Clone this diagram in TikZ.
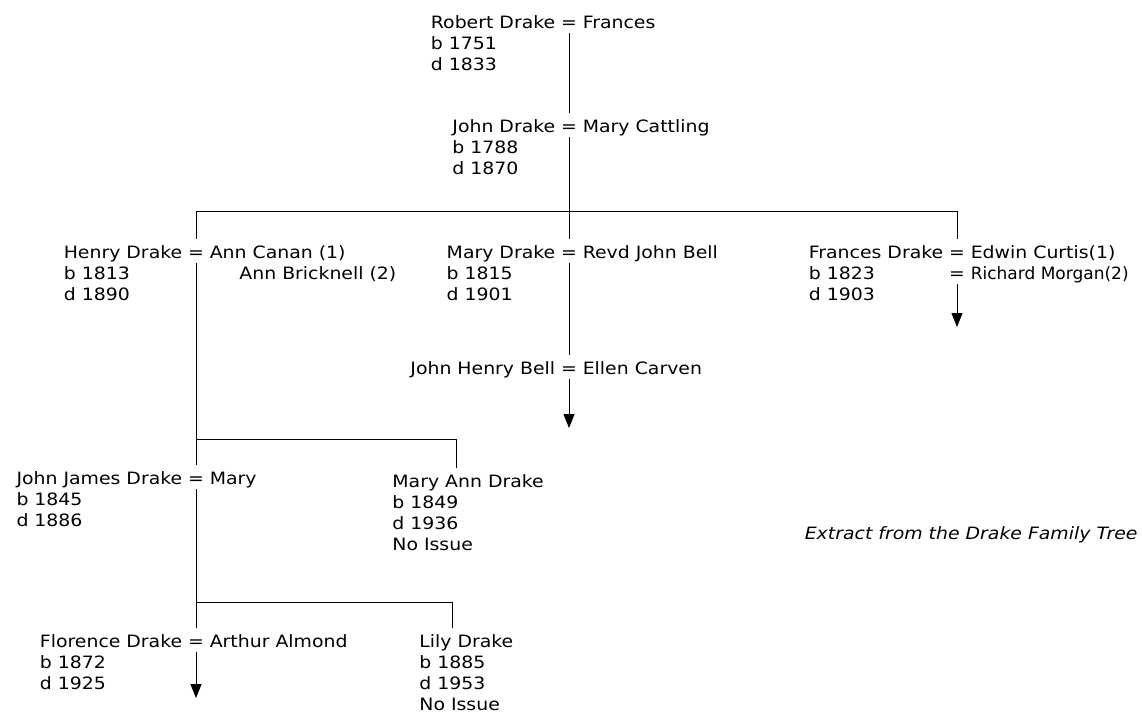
\documentclass[tikz,border=0pt]{standalone}
\usepackage{fontspec}
\setmainfont{DejaVu Sans}[FakeStretch=1.11]
\newfontfamily\tightfont{DejaVu Sans}[FakeStretch=1.0]
\usetikzlibrary{positioning,arrows.meta}

\begin{document}
\begin{tikzpicture}[x=1pt, y=-1pt, line width=0.9pt,
    person/.style={inner sep=0pt, text height=19pt, text depth=5pt, font=\fontsize{17}{21}\selectfont},
    eq/.style={person, inner xsep=5pt, anchor=base},
    descent/.style={-{Triangle[width=11pt,length=14pt]}},
    caption/.style={inner sep=0pt, font=\fontsize{17}{21}\selectfont\itshape}]

    \useasboundingbox (0,0) rectangle (1142,713);

    % marriages, one "=" per couple
    \node[eq] (robEq)   at (569,28)  {=};
    \node[eq] (johnEq)  at (569,132) {=};
    \node[eq] (henEq)   at (196,258) {=};
    \node[eq] (maryEq)  at (569,258) {=};
    \node[eq] (franEq)  at (957,258) {=};
    \node[eq] (franEq2) at (957,279) {=};
    \node[eq] (bellEq)  at (569,374) {=};
    \node[eq] (jamesEq) at (196,484) {=};
    \node[eq] (florEq)  at (196,647) {=};

    \node[person, base left=0pt of robEq]    (rob)    {Robert Drake};
    \node[person, base right=0pt of robEq]   (robW)   {Frances};
    \node[person, base left=0pt of johnEq]   (john)   {John Drake};
    \node[person, base right=0pt of johnEq]  (johnW)  {Mary Cattling};
    \node[person, base left=0pt of henEq]    (hen)    {Henry Drake};
    \node[person, base right=0pt of henEq]   (henW)   {Ann Canan (1)};
    \node[person, anchor=base west]          (henW2) at (239,279) {Ann Bricknell (2)};
    \node[person, base left=0pt of maryEq]   (mary)   {Mary Drake};
    \node[person, base right=0pt of maryEq]  (maryH)  {Revd John Bell};
    \node[person, base left=0pt of franEq]   (fran)   {Frances Drake};
    \node[person, base right=0pt of franEq]  (franH)  {Edwin Curtis(1)};
    \node[person, base right=0pt of franEq2, font=\tightfont\fontsize{17}{21}\selectfont] (franH2) {Richard Morgan(2)};
    \node[person, base left=0pt of bellEq]   (bell)   {John Henry Bell};
    \node[person, base right=0pt of bellEq]  (bellW)  {Ellen Carven};
    \node[person, base left=0pt of jamesEq]  (james)  {John James Drake};
    \node[person, base right=0pt of jamesEq] (jamesW) {Mary};
    \node[person, base left=0pt of florEq]   (flor)   {Florence Drake};
    \node[person, base right=0pt of florEq]  (florH)  {Arthur Almond};
    \node[person, anchor=base west] (maryAnn) at (392,487) {Mary Ann Drake};
    \node[person, anchor=base west] (lily)    at (419,647) {Lily Drake};

    % birth and death lines under each name
    \foreach \who/\lines in {rob/{b 1751,d 1833}, john/{b 1788,d 1870},
        hen/{b 1813,d 1890}, mary/{b 1815,d 1901}, fran/{b 1823,d 1903},
        james/{b 1845,d 1886}, flor/{b 1872,d 1925},
        maryAnn/{b 1849,d 1936,No Issue}, lily/{b 1885,d 1953,No Issue}}
        \foreach \txt [count=\i] in \lines
            \node[person, anchor=base west] (\who-\i) at ([yshift=-21*\i]\who.base west) {\txt};

    % sibling bars
    \coordinate (bar1L) at (196,211);
    \coordinate (bar1R) at (957,211);
    \coordinate (bar2L) at (196,439);
    \coordinate (bar2R) at (456,439);
    \coordinate (bar3L) at (196,602);
    \coordinate (bar3R) at (452,602);

    \draw (robEq.south) -- (johnEq.north);
    \draw (johnEq.south) -- (maryEq.north);
    \draw (henEq.north) -- (bar1L) -- (bar1R) -- (franEq.north);
    \draw (henEq.south) -- (jamesEq.north);
    \draw (bar2L) -- (bar2R) -- (bar2R |- maryAnn.north);
    \draw (jamesEq.south) -- (florEq.north);
    \draw (bar3L) -- (bar3R) -- (bar3R |- lily.north);
    \draw (maryEq.south) -- (bellEq.north);

    % lines carried on elsewhere
    \coordinate (franEnd) at (957,327);
    \coordinate (bellEnd) at (569,428);
    \coordinate (florEnd) at (196,698);
    \draw[descent] (franEq2.south) -- (franEnd);
    \draw[descent] (bellEq.south) -- (bellEnd);
    \draw[descent] (florEq.south) -- (florEnd);

    \node[caption, anchor=base east] (caption) at (1138,539) {Extract from the Drake Family Tree};
\end{tikzpicture}
\end{document}
